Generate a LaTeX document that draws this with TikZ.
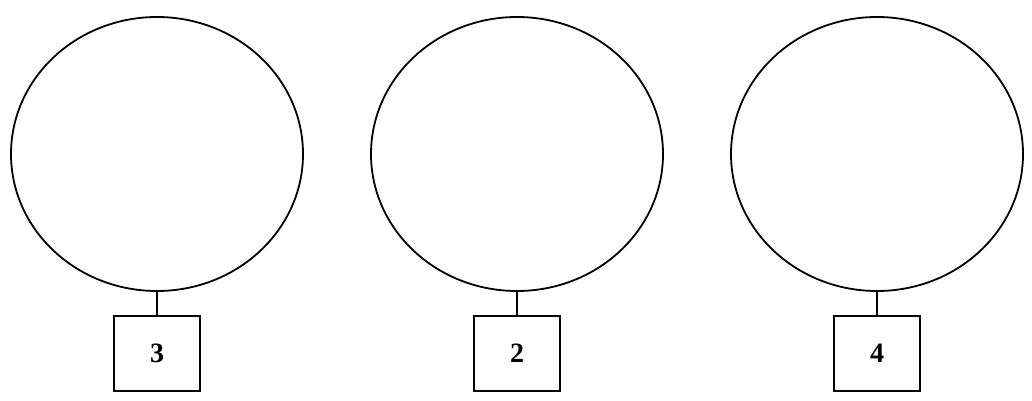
\documentclass[tikz,border=0pt]{standalone}
\usepackage{fontspec}
\setmainfont{Liberation Serif}
\usetikzlibrary{shapes.geometric}
\begin{document}
\begin{tikzpicture}[x=1pt,y=-1pt,
  ring/.style={draw,ellipse,line width=1.8pt,minimum width=292pt,minimum height=274pt,inner sep=0pt},
  tag/.style={draw,rectangle,line width=1.8pt,minimum width=86pt,minimum height=75pt,inner sep=0pt,font=\fontsize{28}{28}\selectfont\bfseries},
  stem/.style={line width=1.8pt}]
\useasboundingbox (0,0) rectangle (1032,401);
\node[ring] (e1) at (157,154) {};
\node[ring] (e2) at (517,154) {};
\node[ring] (e3) at (877,154) {};
\node[tag] (b1) at (157,353.5) {3};
\node[tag] (b2) at (517,353.5) {2};
\node[tag] (b3) at (877,353.5) {4};
\draw[stem] (e1.south) -- (b1.north);
\draw[stem] (e2.south) -- (b2.north);
\draw[stem] (e3.south) -- (b3.north);
\end{tikzpicture}
\end{document}
